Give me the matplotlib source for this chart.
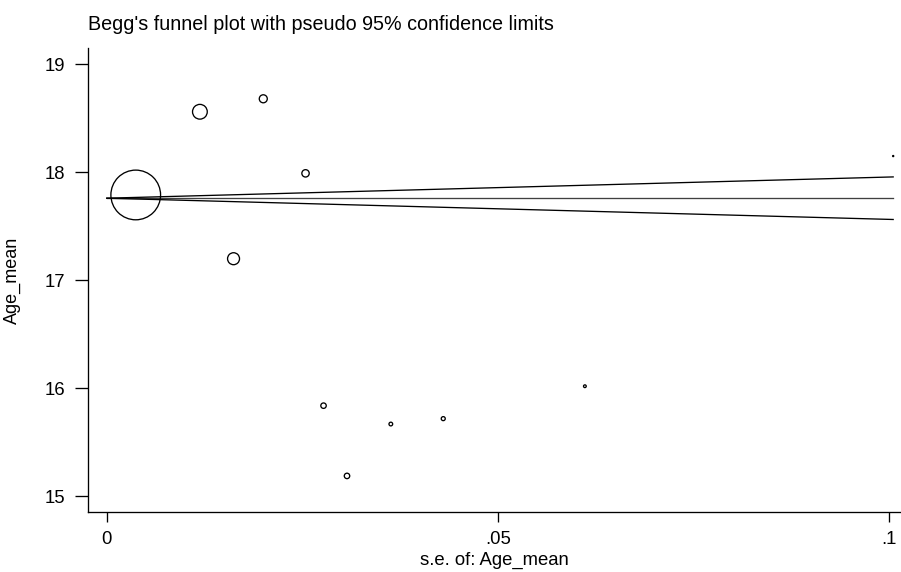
import numpy as np
import matplotlib
matplotlib.use('Agg')
import matplotlib.pyplot as plt

plt.rcParams['font.family'] = ['Liberation Sans', 'DejaVu Sans']

# study estimates
se = [0.0037, 0.0119, 0.0200, 0.0254, 0.0162, 0.0277, 0.0307, 0.0363, 0.0430, 0.0611, 0.1005]
age_mean = [17.79, 18.56, 18.68, 17.99, 17.20, 15.84, 15.19, 15.67, 15.72, 16.02, 18.15]
weight = [100, 8.8, 2.6, 2.2, 5.8, 1.2, 1.2, 0.55, 0.65, 0.3, 0.05]  # relative study weights
pooled = 17.76

xticks = [0, 0.05, 0.1]
xtick_labels = ['0', '.05', '.1']
yticks = [15, 16, 17, 18, 19]


def get_plot():
    fig = plt.figure(figsize=(9.01, 5.72), dpi=100)
    ax = fig.add_axes([88 / 901, 1 - 512 / 572, 1 - 88 / 901, (512 - 48) / 572])

    # pseudo 95% confidence limits
    se_line = np.array([0, max(se)])
    ax.plot(se_line, pooled + 1.96 * se_line, color='black', lw=0.95)
    ax.plot(se_line, pooled - 1.96 * se_line, color='black', lw=0.95)
    ax.plot(se_line, [pooled, pooled], color='black', lw=0.95, alpha=0.75)

    sizes = 12.8 * np.array(weight)
    ax.scatter(se, age_mean, s=sizes, facecolors='none', edgecolors='black',
               linewidths=0.95, zorder=3, clip_on=False)

    ax.set_xlim(-0.0024, 0.1015)
    ax.set_ylim(14.856, 19.15)
    ax.set_xticks(xticks)
    ax.set_xticklabels(xtick_labels)
    ax.set_yticks(yticks)

    for side in ['top', 'right']:
        ax.spines[side].set_visible(False)
    for side in ['left', 'bottom']:
        ax.spines[side].set_linewidth(0.95)

    ax.tick_params(axis='y', direction='out', length=9.4, width=0.95, pad=7, labelsize=13.3)
    ax.tick_params(axis='x', direction='out', length=7.5, width=0.95, pad=6.5, labelsize=13.3)

    ax.set_xlabel('s.e. of: Age_mean', fontsize=13.3, labelpad=2.5)
    ax.set_ylabel('Age_mean', fontsize=13)
    ax.yaxis.set_label_coords(-0.083, 0.5)

    fig.text(88 / 901, 1 - 30 / 572, "Begg's funnel plot with pseudo 95% confidence limits",
             ha='left', va='baseline', fontsize=14.2)

    fig.savefig('out.png', dpi=100)


get_plot()
